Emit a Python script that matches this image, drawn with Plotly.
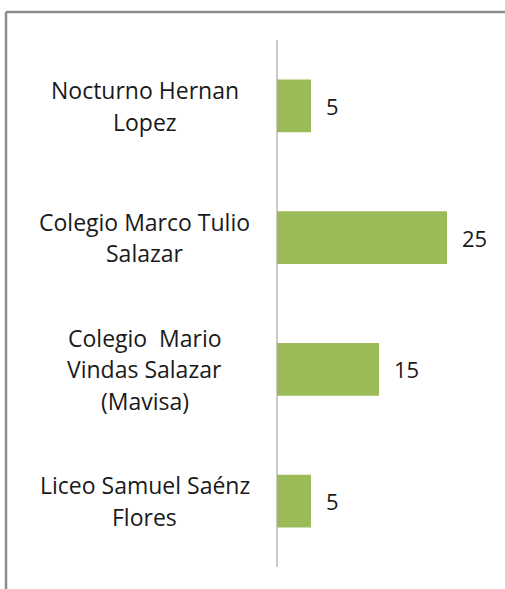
import plotly.graph_objects as go

categories = [
    "Nocturno Hernan<br>Lopez",
    "Colegio Marco Tulio<br>Salazar",
    "Colegio  Mario<br>Vindas Salazar<br>(Mavisa)",
    "Liceo Samuel Saénz<br>Flores",
]
values = [5, 25, 15, 5]
value_labels = ["5", "25", "15", "5"]

W, H = 505, 589
L, R, T, B = 277, 24, 40, 22
pw, ph = W - L - R, H - T - B

FONT = "Open Sans"
FS = 23
LINE = 31.5
fig = go.Figure()
fig.add_trace(go.Bar(
    y=categories, x=values, orientation="h",
    marker=dict(color="#9bbb59", line=dict(width=0)),
    width=0.4, hoverinfo="skip",
))

annotations = []
for c in categories:
    lines = c.split("<br>")
    n = len(lines)
    for i, ln in enumerate(lines):
        annotations.append(dict(
            x=0, xref="paper", y=c, yref="y", xanchor="center", yanchor="middle",
            xshift=-(277 - 144.5), yshift=((n - 1) / 2 - i) * LINE,
            text=ln.replace("  ", "&nbsp; "), showarrow=False,
            font=dict(family=FONT, size=FS, color="#1a1a1a"),
        ))
for c, v, t in zip(categories, values, value_labels):
    annotations.append(dict(
        x=v, xref="x", y=c, yref="y", xanchor="left", yanchor="middle",
        xshift=13, text=t, showarrow=False,
        font=dict(family=FONT, size=22, color="#1a1a1a"),
    ))

# outer frame (top and left lines)
x_left = (6 - L) / pw
y_top = 1 + (T - 12) / ph
x_right = (W + 5 - L) / pw
y_bot = -(B + 5) / ph
shapes = [
    dict(type="line", xref="paper", yref="paper", x0=x_left, x1=x_right,
         y0=y_top, y1=y_top, line=dict(color="#8c8c8c", width=2.5)),
    dict(type="line", xref="paper", yref="paper", x0=x_left, x1=x_left,
         y0=y_top, y1=y_bot, line=dict(color="#8c8c8c", width=2.5)),
    dict(type="line", xref="paper", yref="paper", x0=0, x1=0, y0=0, y1=1,
         line=dict(color="#a6a6a6", width=1.2)),
]

fig.update_layout(
    width=W, height=H,
    margin=dict(l=L, r=R, t=T, b=B),
    paper_bgcolor="white", plot_bgcolor="white",
    showlegend=False,
    annotations=annotations, shapes=shapes,
    xaxis=dict(range=[0, 30], visible=False, fixedrange=True),
    yaxis=dict(autorange="reversed", showticklabels=False, ticks="",
               showgrid=False, zeroline=False, showline=False,
               fixedrange=True),
)

fig.write_html("out.html", config={"displayModeBar": False},
               post_script="document.body.style.margin='0';document.body.style.overflow='hidden';")
